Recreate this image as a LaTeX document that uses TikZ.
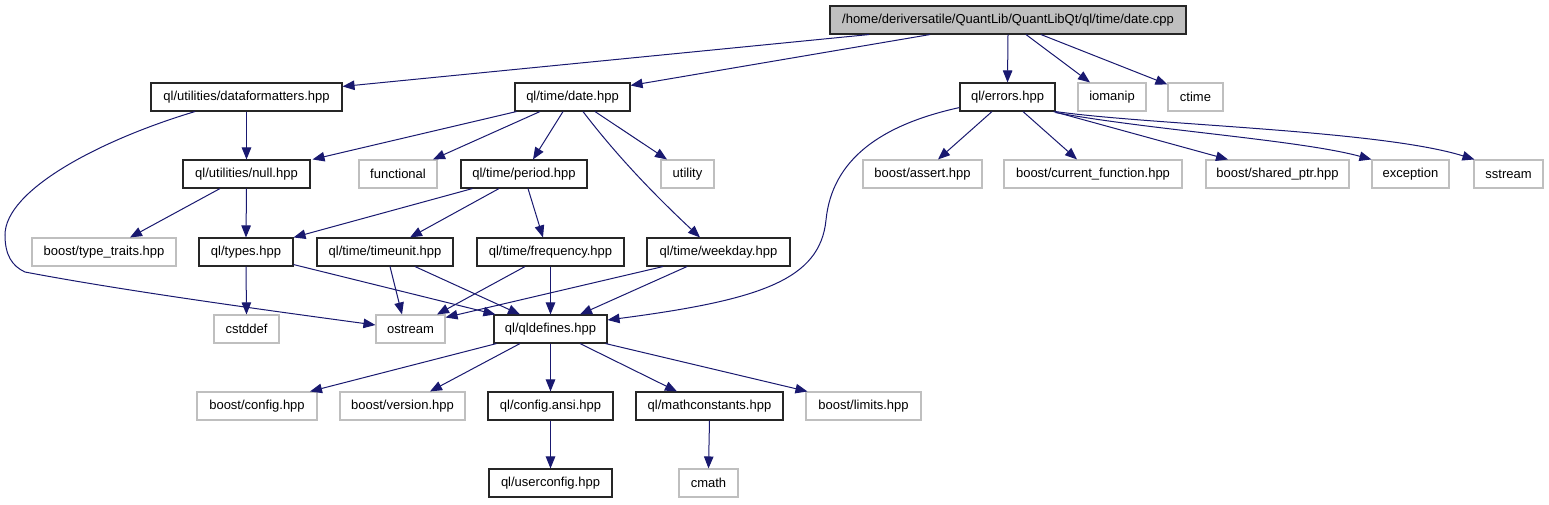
\documentclass[tikz,border=0pt]{standalone}
\usepackage{fontspec}
\setmainfont{Liberation Sans}
\usetikzlibrary{arrows.meta}
\definecolor{edgeblue}{HTML}{191970}
\definecolor{boxgray}{HTML}{BFBFBF}
\begin{document}
\begin{tikzpicture}[x=1pt,y=-1pt,
 base/.style={rectangle, minimum height=28pt, inner sep=0pt, font=\fontsize{13}{15}\selectfont, line width=1.1pt},
 blk/.style={base, draw=black!85, fill=white},
 gry/.style={base, draw=boxgray, fill=white},
 topbox/.style={base, draw=black!85, fill=boxgray},
 edge/.style={draw=edgeblue, line width=1pt, -{Triangle[length=12pt,width=9.5pt]}}]
\useasboundingbox[fill=white] (0,0) rectangle (1549,504);
% row 1
\node[topbox, minimum width=356pt] (cpp) at (1008,20) {/home/deriversatile/QuantLib/QuantLibQt/ql/time/date.cpp};
% row 2
\node[blk, minimum width=191pt] (df) at (246.5,97) {ql/utilities/dataformatters.hpp};
\node[blk, minimum width=115pt] (datehpp) at (572.5,97) {ql/time/date.hpp};
\node[blk, minimum width=95pt] (errors) at (1007.5,97) {ql/errors.hpp};
\node[gry, minimum width=68pt] (iomanip) at (1112,97) {iomanip};
\node[gry, minimum width=55pt] (ctime) at (1195.5,97) {ctime};
% row 3
\node[blk, minimum width=127pt] (null) at (246.5,174) {ql/utilities/null.hpp};
\node[gry, minimum width=78pt] (functional) at (398,174) {functional};
\node[blk, minimum width=126pt] (period) at (524,174) {ql/time/period.hpp};
\node[gry, minimum width=53pt] (utility) at (687.5,174) {utility};
\node[gry, minimum width=119pt] (assert) at (922.5,174) {boost/assert.hpp};
\node[gry, minimum width=178pt] (curfunc) at (1093,174) {boost/current\_function.hpp};
\node[gry, minimum width=143pt] (sharedptr) at (1277.5,174) {boost/shared\_ptr.hpp};
\node[gry, minimum width=77pt] (exception) at (1410.5,174) {exception};
\node[gry, minimum width=69pt] (sstream) at (1508.5,174) {sstream};
% row 4
\node[gry, minimum width=144pt] (traits) at (104,252) {boost/type\_traits.hpp};
\node[blk, minimum width=94pt] (types) at (246,252) {ql/types.hpp};
\node[blk, minimum width=136pt] (timeunit) at (385,252) {ql/time/timeunit.hpp};
\node[blk, minimum width=147pt] (frequency) at (550.5,252) {ql/time/frequency.hpp};
\node[blk, minimum width=143pt] (weekday) at (718.5,252) {ql/time/weekday.hpp};
% row 5
\node[gry, minimum width=65pt] (cstddef) at (246.5,329) {cstddef};
\node[gry, minimum width=69pt] (ostream) at (410.5,329) {ostream};
\node[blk, minimum width=113pt] (qldef) at (550.5,329) {ql/qldefines.hpp};
% row 6
\node[gry, minimum width=120pt] (config) at (257,406) {boost/config.hpp};
\node[gry, minimum width=125pt] (version) at (402.5,406) {boost/version.hpp};
\node[blk, minimum width=125pt] (ansi) at (550.5,406) {ql/config.ansi.hpp};
\node[blk, minimum width=147pt] (mathc) at (709.5,406) {ql/mathconstants.hpp};
\node[gry, minimum width=115pt] (limits) at (863.5,406) {boost/limits.hpp};
% row 7
\node[blk, minimum width=123pt] (userconfig) at (550.5,483) {ql/userconfig.hpp};
\node[gry, minimum width=59pt] (cmath) at (708.5,483) {cmath};
% edges from date.cpp
\draw[edge] ([xshift=-139pt]cpp.south) -- ([yshift=-4pt]df.north east);
\draw[edge] ([xshift=-78pt]cpp.south) -- ([yshift=-3pt]datehpp.north east);
\draw[edge] (cpp.south) -- (errors.north);
\draw[edge] ([xshift=18pt]cpp.south) -- ([xshift=-22pt]iomanip.north);
\draw[edge] ([xshift=33pt]cpp.south) -- ([yshift=-2pt]ctime.north west);
% dataformatters
\draw[edge] (df.south) -- (null.north);
\draw[edge] ([xshift=-51.5pt]df.south) .. controls (100,140) and (5,190) .. (5,235)
   .. controls (5,255) and (12,266) .. (25,272) .. controls (120,290) and (250,308) .. ([yshift=4pt]ostream.west);
% date.hpp
\draw[edge] ([xshift=2pt]datehpp.south west) -- ([xshift=2pt]null.north east);
\draw[edge] ([xshift=-32.5pt]datehpp.south) -- ([xshift=35pt]functional.north);
\draw[edge] ([xshift=-9.5pt]datehpp.south) -- ([xshift=9pt]period.north);
\draw[edge] ([xshift=10.5pt]datehpp.south) .. controls (620,160) and (660,200) .. ([xshift=-18.5pt]weekday.north);
\draw[edge] ([xshift=22.5pt]datehpp.south) -- ([xshift=-20.5pt]utility.north);
% errors
\draw[edge] ([yshift=4pt]errors.south west) .. controls (880,125) and (832,160) .. (826,220)
   .. controls (820,280) and (760,300) .. ([yshift=9pt]qldef.east);
\draw[edge] ([xshift=-15.5pt]errors.south) -- ([xshift=15.5pt]assert.north);
\draw[edge] ([xshift=15.5pt]errors.south) -- ([xshift=-16pt]curfunc.north);
\draw[edge] ([xshift=-2pt]errors.south east) -- ([xshift=-49.5pt]sharedptr.north);
\draw[edge] ([yshift=-1pt]errors.south east) .. controls (1150,130) and (1300,140) .. (exception.north west);
\draw[edge] ([yshift=0pt]errors.south east) .. controls (1150,125) and (1380,130) .. ([xshift=1pt]sstream.north west);
% null
\draw[edge] ([xshift=-26.5pt]null.south) -- ([xshift=26pt]traits.north);
\draw[edge] (null.south) -- (types.north);
% period
\draw[edge] ([xshift=12pt]period.south west) -- (types.north east);
\draw[edge] ([xshift=-25pt]period.south) -- ([xshift=25pt]timeunit.north);
\draw[edge] ([xshift=4pt]period.south) -- ([xshift=-7.5pt]frequency.north);
% types
\draw[edge] (types.south) -- (cstddef.north);
\draw[edge] ([yshift=2pt]types.south east) -- ([xshift=2pt]qldef.north west);
% timeunit
\draw[edge] ([xshift=5pt]timeunit.south) -- ([xshift=-8.5pt]ostream.north);
\draw[edge] ([xshift=30pt]timeunit.south) -- ([xshift=-30.5pt]qldef.north);
% frequency
\draw[edge] ([xshift=-25.5pt]frequency.south) -- ([xshift=26.5pt]ostream.north);
\draw[edge] (frequency.south) -- (qldef.north);
% weekday
\draw[edge] ([xshift=-55.5pt]weekday.south) -- ([yshift=-3pt]ostream.north east);
\draw[edge] ([xshift=-31.5pt]weekday.south) -- ([xshift=29.5pt]qldef.north);
% qldefines
\draw[edge] ([xshift=3pt]qldef.south west) -- ([xshift=53pt]config.north);
\draw[edge] ([xshift=-30.5pt]qldef.south) -- ([xshift=27.5pt]version.north);
\draw[edge] (qldef.south) -- (ansi.north);
\draw[edge] ([xshift=29.5pt]qldef.south) -- ([xshift=-32.5pt]mathc.north);
\draw[edge] ([xshift=-2pt]qldef.south east) -- ([xshift=2pt]limits.north west);
% lower
\draw[edge] (ansi.south) -- (userconfig.north);
\draw[edge] (mathc.south) -- (cmath.north);
\end{tikzpicture}
\end{document}
